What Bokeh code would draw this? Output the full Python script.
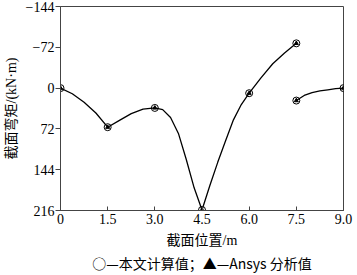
from bokeh.plotting import figure
from bokeh.models import Range1d, FixedTicker, Title
from bokeh.embed import file_html
from bokeh.resources import INLINE

# Node values (section position / m, bending moment / kN·m)
node_x1 = [0.0, 1.5, 3.0, 4.5, 6.0, 7.5]
node_y1 = [0, 69, 35, 215, 9, -79]
node_x2 = [7.5, 9.0]
node_y2 = [22, 0]

# Curve values
curve_x1 = [0.0, 0.375, 0.75, 1.125, 1.5, 1.875, 2.25, 2.625, 3.0, 3.25, 3.5, 3.75, 4.0, 4.25, 4.5,
            4.75, 5.0, 5.25, 5.5, 5.75, 6.0, 6.375, 6.75, 7.125, 7.5]
curve_y1 = [0, 10, 25, 44, 69, 57, 45, 37, 35, 38, 52, 80, 126, 176, 215,
            172, 131, 93, 56, 29, 9, -18, -43, -62, -79]
curve_x2 = [7.5, 7.75, 8.0, 8.25, 8.5, 8.75, 9.0]
curve_y2 = [22, 13, 8, 5, 3, 1, 0]

x_ticks = [0, 1.5, 3.0, 4.5, 6.0, 7.5, 9.0]
x_tick_labels = ["0", "1.5", "3.0", "4.5", "6.0", "7.5", "9.0"]
y_ticks = [-144, -72, 0, 72, 144, 216]
y_tick_labels = ["\u2212144", "\u221272", "0", "72", "144", "216"]

FONT = "Liberation Serif, Noto Sans CJK SC"
FS = "14px"

p = figure(width=357, height=275, output_backend="svg", toolbar_location=None,
           x_range=Range1d(0, 9.0), y_range=Range1d(216, -144),
           min_border_left=60, min_border_right=14, min_border_top=6, min_border_bottom=65)
p.grid.visible = False
p.background_fill_color = "white"
p.border_fill_color = "white"
p.outline_line_color = "#444444"
p.outline_line_width = 1

p.line(curve_x1, curve_y1, line_color="black", line_width=1.3)
p.line(curve_x2, curve_y2, line_color="black", line_width=1.3)
for xs, ys in ((node_x1, node_y1), (node_x2, node_y2)):
    p.scatter(xs, ys, marker="circle", size=7, fill_color=None, line_color="black", line_width=1)
    p.scatter(xs, ys, marker="triangle", size=4, fill_color="black", line_color="black")

xa = p.xaxis[0]
xa.ticker = FixedTicker(ticks=x_ticks)
xa.major_label_overrides = {t: l for t, l in zip(x_ticks, x_tick_labels)}
xa.major_tick_in = 4
xa.major_tick_out = 0
xa.minor_tick_line_color = None
xa.axis_line_color = "#444444"
xa.major_tick_line_color = "#444444"
xa.major_label_text_font = FONT
xa.major_label_text_font_size = FS
xa.major_label_text_color = "black"
xa.major_label_standoff = 3
xa.axis_label = "截面位置/m"
xa.axis_label_text_font = FONT
xa.axis_label_text_font_size = FS
xa.axis_label_text_font_style = "normal"
xa.axis_label_text_color = "black"
xa.axis_label_standoff = 6

ya = p.yaxis[0]
ya.ticker = FixedTicker(ticks=y_ticks)
ya.major_label_overrides = {t: l for t, l in zip(y_ticks, y_tick_labels)}
ya.major_tick_in = 0
ya.major_tick_out = 5
ya.minor_tick_line_color = None
ya.axis_line_color = "#444444"
ya.major_tick_line_color = "#444444"
ya.major_label_text_font = FONT
ya.major_label_text_font_size = FS
ya.major_label_text_color = "black"
ya.major_label_standoff = 1
ya.axis_label = "截面弯矩/(kN·m)"
ya.axis_label_text_font = FONT
ya.axis_label_text_font_size = FS
ya.axis_label_text_font_style = "normal"
ya.axis_label_text_color = "black"
ya.axis_label_standoff = 4

legend_text = "○—本文计算值；▲—Ansys 分析值"
p.add_layout(Title(text=legend_text, align="center", text_font="Noto Sans CJK SC, Liberation Serif",
                   text_font_size=FS, text_font_style="normal", text_color="black", standoff=1,
                   offset=-12), "below")

open("out.html", "w").write(file_html(p, INLINE))
